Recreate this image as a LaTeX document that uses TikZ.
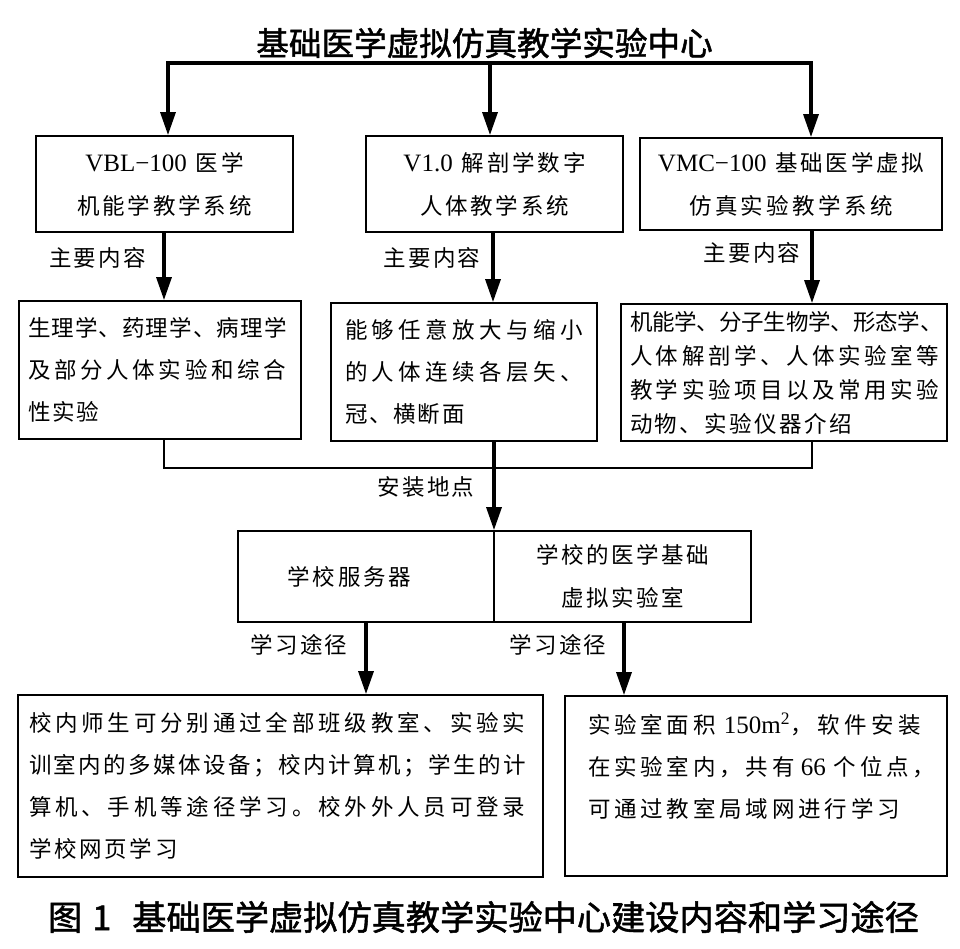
\documentclass[tikz,border=0pt]{standalone}
\usepackage{fontspec}
\setmainfont{Liberation Serif}
\newfontfamily\cjk{Noto Sans CJK SC}
\newfontfamily\cjkmid[FakeBold=1.5]{Noto Sans CJK SC}
\newfontfamily\latf{Liberation Serif}
\usetikzlibrary{arrows.meta}
\newcommand\latn[1]{{\latf\fontsize{25pt}{42pt}\selectfont #1}}
\newcommand\lsp[2]{{\addfontfeature{LetterSpace=#1}#2}}
\tikzset{
  box/.style={draw, line width=1.8pt, inner sep=0pt},
  body/.style={font=\cjk\fontsize{22.5pt}{42pt}\selectfont, align=left},
  bodytight/.style={font=\cjk\fontsize{22.5pt}{34pt}\selectfont, align=left},
  head/.style={font=\cjk\fontsize{22.5pt}{43pt}\selectfont, align=center},
  lbl/.style={font=\cjk\fontsize{22.5pt}{27pt}\selectfont, inner sep=0pt},
  bigtitle/.style={font=\cjkmid\fontsize{32.6pt}{36pt}\selectfont, inner sep=0pt},
  thickarrow/.style={line width=3.3pt, -{Triangle[length=23pt,width=15pt]}},
  thinline/.style={line width=2pt},
}
\begin{document}
\begin{tikzpicture}[x=1pt,y=-1pt]
\useasboundingbox (0,0) rectangle (960,949);

% title
\node[bigtitle] (title) at (484.5,43) {基础医学虚拟仿真教学实验中心};

% row 1
\node[box, head, minimum width=257pt, minimum height=96pt] (b1) at (164.5,184)
  {\latn{VBL−100}\hspace{9pt}\lsp{12.5}{医学}\\\lsp{12.5}{机能学教学系统}};
\node[box, head, minimum width=257pt, minimum height=96pt] (b2) at (494.5,184)
  {\latn{V1.0}\hspace{9pt}\lsp{12.5}{解剖学数字}\\\lsp{12}{人体教学系统}};
\node[box, head, minimum width=302pt, minimum height=92pt] (b3) at (791,184)
  {\latn{VMC−100}\hspace{9pt}\lsp{12}{基础医学虚拟}\\\lsp{15}{仿真实验教学系统}};

% row 2
\node[box, body, text width=264pt, inner xsep=9pt, minimum height=138pt] (b4) at (160,370)
  {\lsp{4.9}{生理学、药理学、病理学}\\\lsp{16.4}{及部分人体实验和综合}\\\lsp{8}{性实验}};
\node[box, body, text width=238pt, inner xsep=14pt, minimum height=138pt] (b5) at (464,372)
  {\lsp{19.5}{能够任意放大与缩小}\\\lsp{19.5}{的人体连续各层矢、}\\\lsp{8}{冠、横断面}};
\node[box, bodytight, text width=308pt, inner xsep=9pt, minimum height=137pt] (b6) at (784,372.5)
  {\lsp{-0.8}{机能学、分子生物学、形态学、}\\\lsp{15.6}{人体解剖学、人体实验室等}\\\lsp{15.6}{教学实验项目以及常用实验}\\\lsp{11}{动物、实验仪器介绍}};

% row 3
\node[box, head, align=left, text width=157pt, inner xsep=49.5pt, minimum height=91pt] (b9L) at (366,576.5)
  {\lsp{12.5}{学校服务器}};
\node[box, head, minimum width=257pt, minimum height=91pt] (b9R) at (622.5,576.5)
  {\lsp{11}{学校的医学基础}\\\lsp{11}{虚拟实验室}};

% row 4
\node[box, body, text width=503pt, inner xsep=11pt, minimum height=182pt] (b10) at (280.5,786)
  {\lsp{17}{校内师生可分别通过全部班级教室、实验实}\\\lsp{11}{训室内的多媒体设备；校内计算机；学生的计}\\\lsp{17}{算机、手机等途径学习。校外外人员可登录}\\\lsp{12}{学校网页学习}};
\node[box, body, text width=336pt, inner xsep=23pt, minimum height=180pt] (b11) at (756,786)
  {\mbox{\lsp{17}{实验室面积}\hspace{8pt}\latn{150m\textsuperscript{2}}\lsp{20}{，软件安装}}\\\mbox{\lsp{17}{在实验室内，共有}\hspace{6pt}\latn{66}\hspace{8pt}\lsp{17}{个位点，}}\\\mbox{\lsp{17}{可通过教室局域网进行学习}}\\\mbox{}};

% caption
\node[bigtitle, font=\cjkmid\fontsize{34.2pt}{38pt}\selectfont] (cap) at (483.5,917)
  {图\hspace{10pt}1\hspace{21pt}基础医学虚拟仿真教学实验中心建设内容和学习途径};

% connector coordinates
\coordinate (t1) at (168,63);
\coordinate (t2) at (490,63);
\coordinate (t3) at (811,63);
\coordinate (m1) at (164,0);
\coordinate (m2) at (493,0);
\coordinate (m3) at (812,0);
\coordinate (j1) at (164,468);
\coordinate (j3) at (812,468);
\coordinate (jm) at (494,468);
\coordinate (r1) at (366,0);
\coordinate (r2) at (624,0);

% top distribution
\draw[line width=3.3pt, {Triangle[length=23pt,width=15pt]}-{Triangle[length=23pt,width=15pt]}]
  (t1 |- b1.north) -- (t1) -- (t3) -- (t3 |- b3.north);
\draw[thickarrow] (t2) -- (t2 |- b2.north);

% row1 -> row2
\draw[thickarrow] (b1.south -| m1) -- (b4.north -| m1);
\draw[thickarrow] (b2.south -| m2) -- (b5.north -| m2);
\draw[thickarrow] (b3.south -| m3) -- (b6.north -| m3);

% row2 -> row3
\draw[thinline] (b4.south -| j1) -- (j1) -- (j3) -- (b6.south -| j3);
\draw[thickarrow] (b5.south -| jm) -- (b9L.north -| jm);

% row3 -> row4
\draw[thickarrow] (b9L.south -| r1) -- (b10.north -| r1);
\draw[thickarrow] (b9R.south -| r2) -- (b11.north -| r2);

% labels
\node[lbl] (l1) at (97.5,258) {\lsp{10}{主要内容}};
\node[lbl] (l2) at (432,258) {\lsp{10}{主要内容}};
\node[lbl] (l3) at (752,253) {\lsp{10}{主要内容}};
\node[lbl] (l4) at (426,487) {\lsp{10}{安装地点}};
\node[lbl] (l5) at (299,645) {\lsp{10}{学习途径}};
\node[lbl] (l6) at (558,645) {\lsp{10}{学习途径}};
\end{tikzpicture}
\end{document}
